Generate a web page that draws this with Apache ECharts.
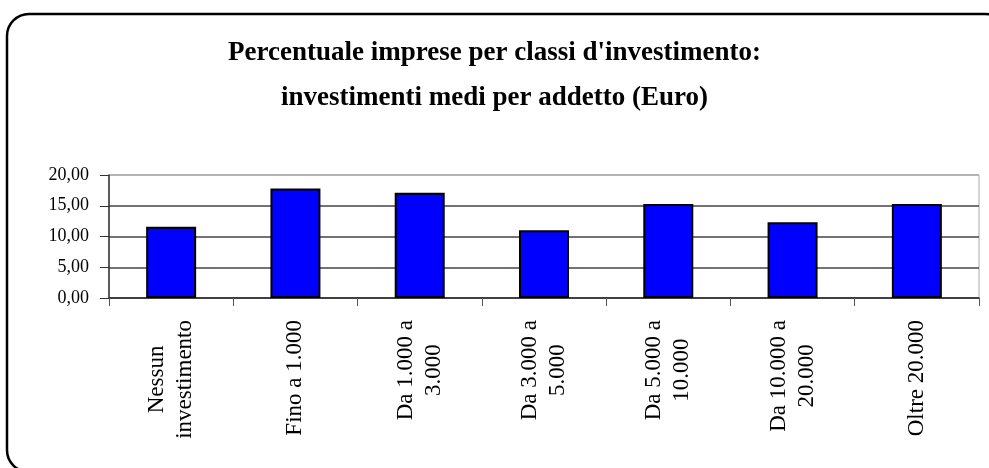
<!DOCTYPE html>
<html>
<head>
    <title>Percentuale imprese per classi d'investimento</title>
    <script src="https://cdn.jsdelivr.net/npm/echarts@6/dist/echarts.min.js"></script>
    <style>
        body { margin: 0; background: #fff; }
    </style>
</head>
<body>
    <div id="chart" style="width:989px; height:468px"></div>

    <script>
        // categorie (con a capo come nell'originale)
        let categories = ['Nessun\ninvestimento', 'Fino a 1.000', 'Da 1.000 a\n3.000', 'Da 3.000 a\n5.000',
                          'Da 5.000 a\n10.000', 'Da 10.000 a\n20.000', 'Oltre 20.000'];
        let values = [11.6, 17.8, 17.1, 11.0, 15.3, 12.3, 15.3];
        let yTicks = [0, 5, 10, 15, 20];

        let chart = echarts.init(document.getElementById('chart'));
        let serif = "'Liberation Serif', 'Times New Roman', serif";

        let option = {
            animation: false,
            title: {
                text: "Percentuale imprese per classi d'investimento:\ninvestimenti medi per addetto (Euro)",
                left: 'center',
                top: 26,
                textStyle: { fontFamily: serif, fontWeight: 'bold', fontSize: 27, lineHeight: 45, color: '#000' }
            },
            graphic: [{
                type: 'rect',
                shape: { x: 7, y: 14, width: 1000, height: 458, r: 22 },
                style: { fill: 'none', stroke: '#000', lineWidth: 2.5 },
                z: 100
            }],
            grid: { left: 109, right: 10, top: 175, bottom: 170, show: true, borderColor: '#aaa', borderWidth: 1 },
            xAxis: {
                type: 'category',
                data: categories,
                axisLine: { lineStyle: { color: '#333', width: 1.5 } },
                axisTick: { show: true, length: 8, inside: false, lineStyle: { color: '#555' } },
                axisLabel: {
                    rotate: 90,
                    margin: 22,
                    interval: 0,
                    formatter: function(v) {
                        return v.split('\n').map(s => '{c|' + s + '}').join('\n');
                    },
                    rich: { c: { align: 'center', fontFamily: serif, fontSize: 23, lineHeight: 28, color: '#000' } }
                }
            },
            yAxis: {
                type: 'value',
                min: yTicks[0],
                max: yTicks[yTicks.length - 1],
                interval: 5,
                axisLine: { show: true, lineStyle: { color: '#333', width: 1.5 } },
                axisTick: { show: true, length: 9, lineStyle: { color: '#333' } },
                axisLabel: {
                    margin: 20,
                    color: '#000',
                    fontFamily: serif,
                    fontSize: 18,
                    showMinLabel: true,
                    showMaxLabel: true,
                    formatter: v => v.toFixed(2).replace('.', ',')
                },
                splitLine: { show: true, lineStyle: { color: ['#444', '#444', '#444', '#444', '#aaa'], width: 1.5 } }
            },
            series: [{
                type: 'bar',
                data: values,
                barWidth: 50,
                itemStyle: { color: '#0000ff', borderColor: '#000', borderWidth: 2 }
            }]
        };

        chart.setOption(option);
    </script>
</body>
</html>
